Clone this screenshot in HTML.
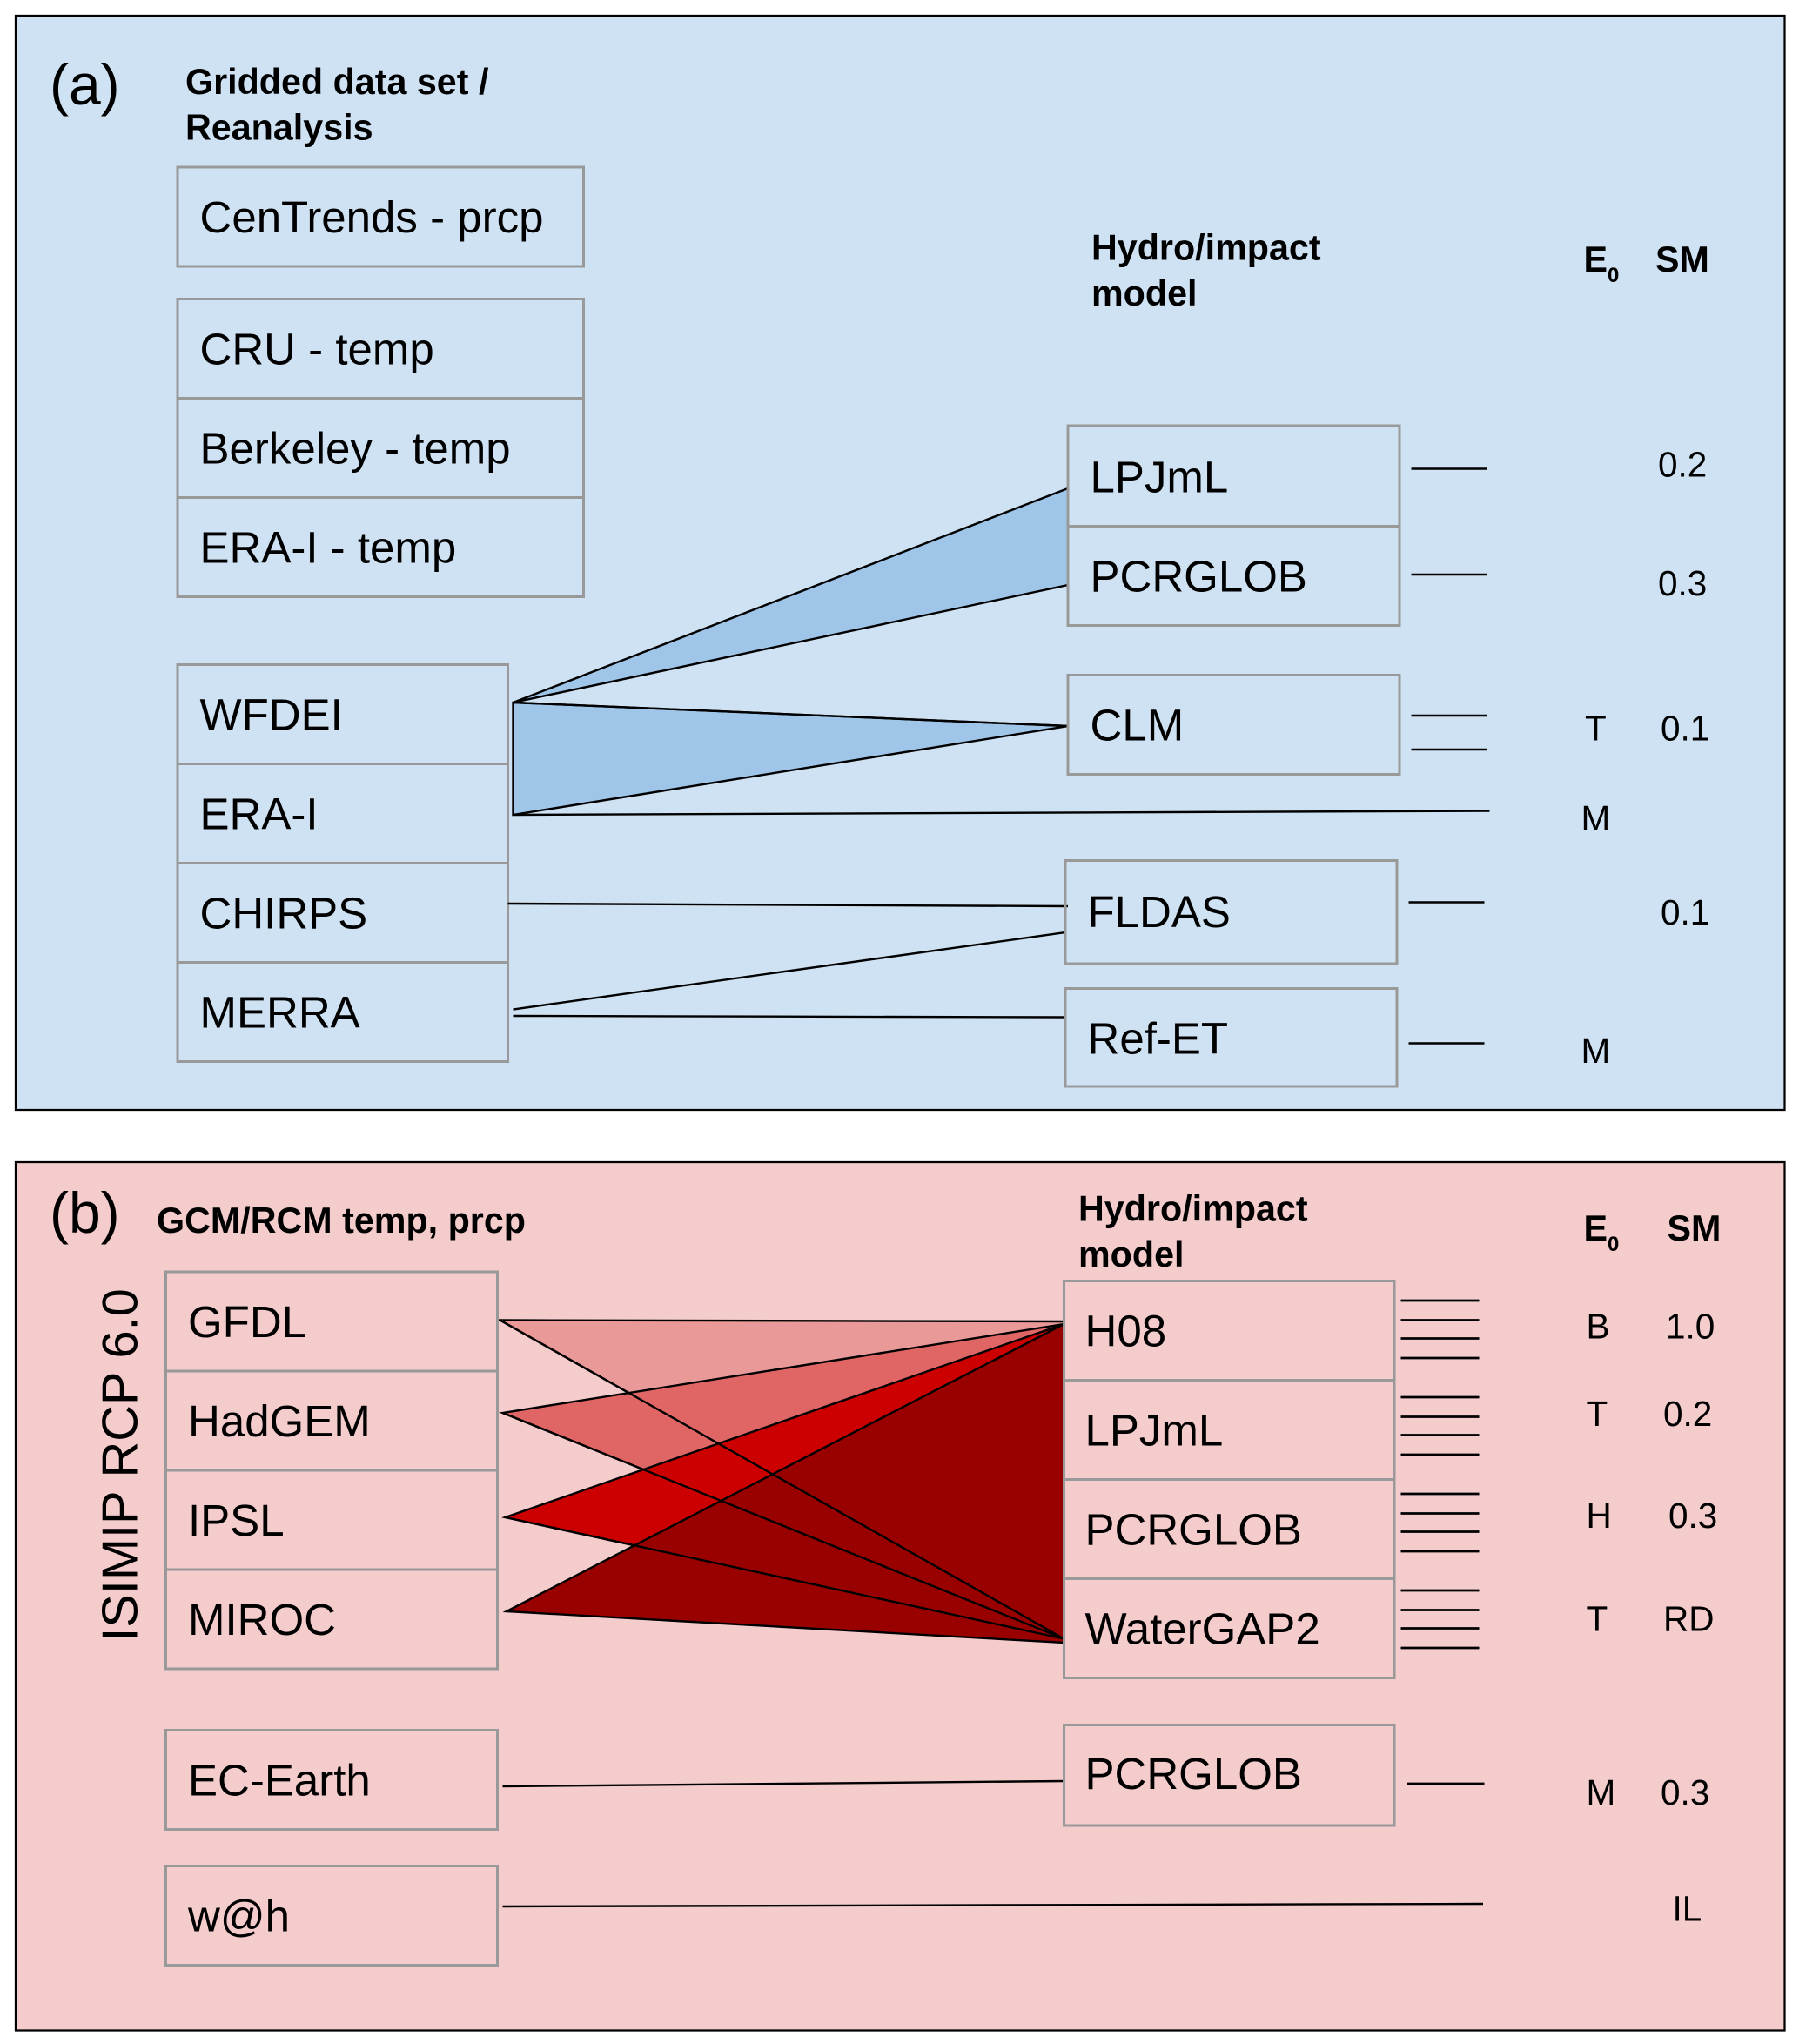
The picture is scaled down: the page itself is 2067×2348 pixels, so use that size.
<!DOCTYPE html>
<html><head><meta charset="utf-8"><style>
html,body{margin:0;padding:0;background:#fff}
svg{display:block}
text{font-family:"Liberation Sans",Arial,sans-serif;fill:#000}
.bx{fill:none;stroke:#999;stroke-width:2}
.t{font-size:34px}
.h{font-size:27.5px;font-weight:bold}
.v{font-size:27px}
.ln{stroke:#000;stroke-width:1.6;fill:none}
</style></head><body>
<svg width="2067" height="2348" viewBox="0 0 1378 1565.33" xmlns="http://www.w3.org/2000/svg">
<g>
<rect x="12" y="12" width="1355" height="838" fill="#cfe2f3" stroke="#000" stroke-width="1.5"/>
<text x="38" y="80" font-size="44">(a)</text>
<text class="h" x="142" y="72">Gridded data set /</text>
<text class="h" x="142" y="107">Reanalysis</text>
<text class="h" x="836" y="199">Hydro/impact</text>
<text class="h" x="836" y="234">model</text>
<text class="h" x="1213" y="208">E<tspan font-size="16" dy="8">0</tspan></text>
<text class="h" x="1268" y="208">SM</text>

<g>
<rect class="bx" x="136" y="128" width="311" height="76"/><text class="t" x="153" y="178">CenTrends - prcp</text>
<rect class="bx" x="136" y="229" width="311" height="76"/><text class="t" x="153" y="279">CRU - temp</text>
<rect class="bx" x="136" y="305" width="311" height="76"/><text class="t" x="153" y="355">Berkeley - temp</text>
<rect class="bx" x="136" y="381" width="311" height="76"/><text class="t" x="153" y="431">ERA-I - temp</text>
<rect class="bx" x="136" y="509" width="253" height="76"/><text class="t" x="153" y="559">WFDEI</text>
<rect class="bx" x="136" y="585" width="253" height="76"/><text class="t" x="153" y="635">ERA-I</text>
<rect class="bx" x="136" y="661" width="253" height="76"/><text class="t" x="153" y="711">CHIRPS</text>
<rect class="bx" x="136" y="737" width="253" height="76"/><text class="t" x="153" y="787">MERRA</text>
</g>

<g>
<polygon points="393,538 818,374 818,448" fill="#9fc5e8" stroke="#000" stroke-width="1.6"/>
<polygon points="393,538 393,624 818,556" fill="#9fc5e8" stroke="#000" stroke-width="1.6"/>
<line class="ln" x1="393" y1="538" x2="818" y2="556" stroke-width="2.5"/>
<line class="ln" x1="393" y1="624" x2="1141" y2="621"/>
<line class="ln" x1="389" y1="692" x2="818" y2="694"/>
<line class="ln" x1="393" y1="773" x2="816" y2="714"/>
<line class="ln" x1="393" y1="778" x2="816" y2="779"/>
</g>

<g>
<rect class="bx" x="818" y="326" width="254" height="77" fill="#cfe2f3"/><text class="t" x="835" y="377">LPJmL</text>
<rect class="bx" x="818" y="403" width="254" height="76" fill="#cfe2f3"/><text class="t" x="835" y="453">PCRGLOB</text>
<rect class="bx" x="818" y="517" width="254" height="76" fill="#cfe2f3"/><text class="t" x="835" y="567">CLM</text>
<rect class="bx" x="816" y="659" width="254" height="79" fill="#cfe2f3"/><text class="t" x="833" y="710">FLDAS</text>
<rect class="bx" x="816" y="757" width="254" height="75" fill="#cfe2f3"/><text class="t" x="833" y="807">Ref-ET</text>
</g>

<g>
<line class="ln" x1="1081" y1="359" x2="1139" y2="359"/>
<line class="ln" x1="1081" y1="440" x2="1139" y2="440"/>
<line class="ln" x1="1081" y1="548" x2="1139" y2="548"/>
<line class="ln" x1="1081" y1="574" x2="1139" y2="574"/>
<line class="ln" x1="1079" y1="691" x2="1137" y2="691"/>
<line class="ln" x1="1079" y1="799" x2="1137" y2="799"/>
</g>
<g>
<text class="v" x="1270" y="365">0.2</text>
<text class="v" x="1270" y="456">0.3</text>
<text class="v" x="1214" y="567">T</text>
<text class="v" x="1272" y="567">0.1</text>
<text class="v" x="1211" y="636">M</text>
<text class="v" x="1272" y="708">0.1</text>
<text class="v" x="1211" y="814">M</text>
</g>
</g>

<g>
<rect x="12" y="890" width="1355" height="665" fill="#f4cccc" stroke="#000" stroke-width="1.5"/>
<text x="38" y="944" font-size="44">(b)</text>
<text class="h" x="120" y="944">GCM/RCM temp, prcp</text>
<text class="h" x="826" y="935">Hydro/impact</text>
<text class="h" x="826" y="970">model</text>
<text class="h" x="1213" y="950">E<tspan font-size="16" dy="8">0</tspan></text>
<text class="h" x="1277" y="950">SM</text>
<text font-size="38.5" transform="translate(105,1122) rotate(-90)" text-anchor="middle">ISIMIP RCP 6.0</text>

<g>
<polygon points="383,1011 815,1012 815,1255" fill="#ea9999" stroke="#000" stroke-width="1.6"/>
<polygon points="385,1082 815,1014 815,1255" fill="#e06666" stroke="#000" stroke-width="1.6"/>
<polygon points="387,1162 815,1014 815,1255" fill="#cc0000" stroke="#000" stroke-width="1.6"/>
<polygon points="388,1234 815,1014 815,1258" fill="#990000" stroke="#000" stroke-width="1.6"/>
<line class="ln" x1="383" y1="1011" x2="815" y2="1255"/>
<line class="ln" x1="385" y1="1082" x2="815" y2="1255"/>
<line class="ln" x1="387" y1="1162" x2="815" y2="1255"/>
<line class="ln" x1="385" y1="1368" x2="815" y2="1364"/>
<line class="ln" x1="385" y1="1460" x2="1136" y2="1458"/>
</g>

<g>
<rect class="bx" x="127" y="974" width="254" height="76"/><text class="t" x="144" y="1024">GFDL</text>
<rect class="bx" x="127" y="1050" width="254" height="76"/><text class="t" x="144" y="1100">HadGEM</text>
<rect class="bx" x="127" y="1126" width="254" height="76"/><text class="t" x="144" y="1176">IPSL</text>
<rect class="bx" x="127" y="1202" width="254" height="76"/><text class="t" x="144" y="1252">MIROC</text>
<rect class="bx" x="127" y="1325" width="254" height="76"/><text class="t" x="144" y="1375">EC-Earth</text>
<rect class="bx" x="127" y="1429" width="254" height="76"/><text class="t" x="144" y="1479">w@h</text>
</g>

<g>
<rect class="bx" x="815" y="981" width="253" height="76" fill="#f4cccc"/><text class="t" x="831" y="1031">H08</text>
<rect class="bx" x="815" y="1057" width="253" height="76" fill="#f4cccc"/><text class="t" x="831" y="1107">LPJmL</text>
<rect class="bx" x="815" y="1133" width="253" height="76" fill="#f4cccc"/><text class="t" x="831" y="1183">PCRGLOB</text>
<rect class="bx" x="815" y="1209" width="253" height="76" fill="#f4cccc"/><text class="t" x="831" y="1259">WaterGAP2</text>
<rect class="bx" x="815" y="1321" width="253" height="77" fill="#f4cccc"/><text class="t" x="831" y="1370">PCRGLOB</text>
</g>

<g stroke="#000" stroke-width="1.8">
<line x1="1073" y1="996" x2="1133" y2="996"/><line x1="1073" y1="1011" x2="1133" y2="1011"/><line x1="1073" y1="1025" x2="1133" y2="1025"/><line x1="1073" y1="1040" x2="1133" y2="1040"/>
<line x1="1073" y1="1070" x2="1133" y2="1070"/><line x1="1073" y1="1085" x2="1133" y2="1085"/><line x1="1073" y1="1099" x2="1133" y2="1099"/><line x1="1073" y1="1114" x2="1133" y2="1114"/>
<line x1="1073" y1="1144" x2="1133" y2="1144"/><line x1="1073" y1="1159" x2="1133" y2="1159"/><line x1="1073" y1="1173" x2="1133" y2="1173"/><line x1="1073" y1="1188" x2="1133" y2="1188"/>
<line x1="1073" y1="1218" x2="1133" y2="1218"/><line x1="1073" y1="1233" x2="1133" y2="1233"/><line x1="1073" y1="1247" x2="1133" y2="1247"/><line x1="1073" y1="1262" x2="1133" y2="1262"/>
<line x1="1078" y1="1366" x2="1137" y2="1366"/>
</g>
<g>
<text class="v" x="1215" y="1025">B</text><text class="v" x="1276" y="1025">1.0</text>
<text class="v" x="1215" y="1092">T</text><text class="v" x="1274" y="1092">0.2</text>
<text class="v" x="1215" y="1170">H</text><text class="v" x="1278" y="1170">0.3</text>
<text class="v" x="1215" y="1249">T</text><text class="v" x="1274" y="1249">RD</text>
<text class="v" x="1215" y="1382">M</text><text class="v" x="1272" y="1382">0.3</text>
<text class="v" x="1281" y="1471">IL</text>
</g>
</g>
</svg>
</body></html>
